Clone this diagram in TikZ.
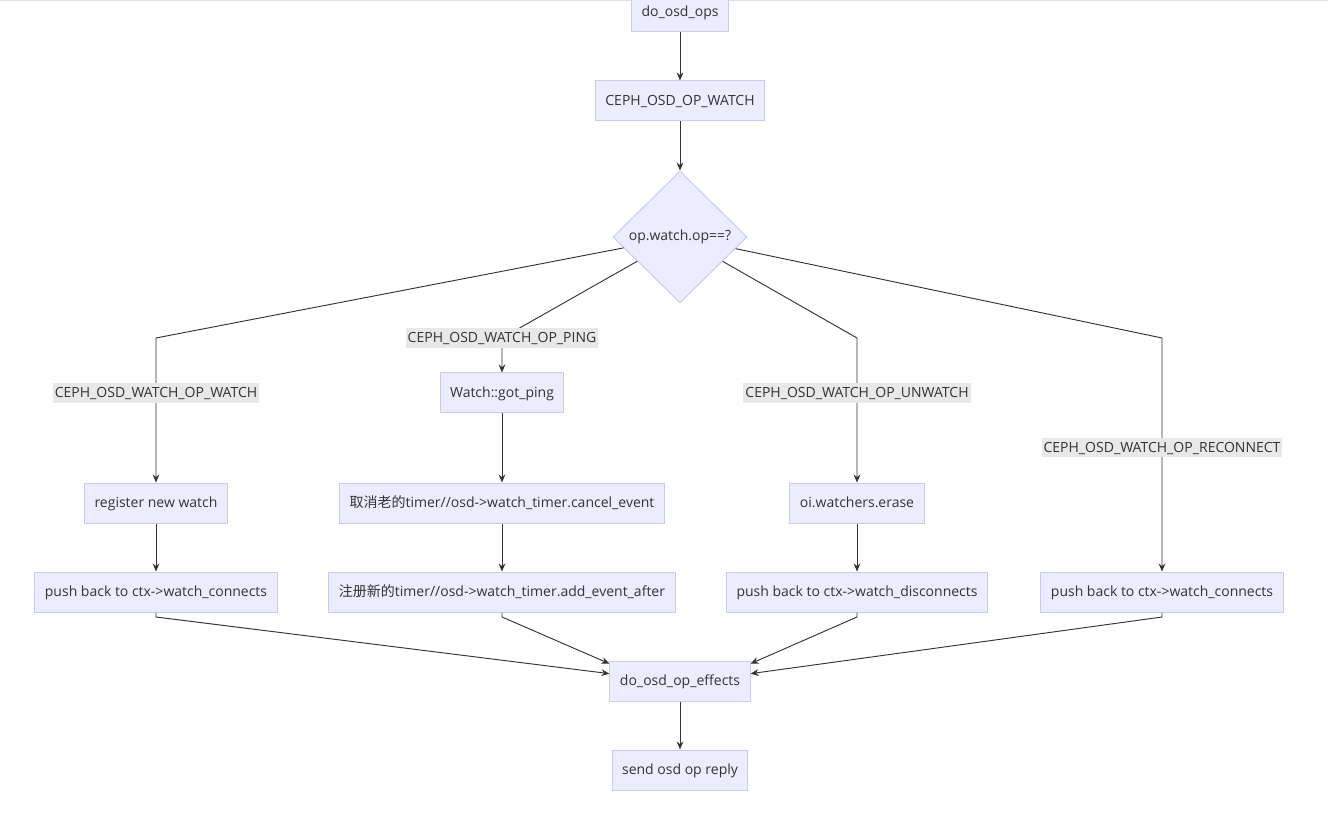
\documentclass[tikz,border=0pt]{standalone}
\usepackage{fontspec}
\setmainfont{Open Sans}
\newfontfamily\cjk{Noto Sans CJK SC}
\usetikzlibrary{shapes.geometric,arrows.meta}
\definecolor{boxfill}{HTML}{ECECFF}
\definecolor{boxline}{HTML}{CACAF2}
\definecolor{lblfill}{HTML}{E8E8E8}
\definecolor{ink}{HTML}{333333}
\begin{document}
\begin{tikzpicture}[x=0.75pt, y=-0.75pt, >={Stealth[length=6pt,width=5pt]},
  box/.style={draw=boxline, fill=boxfill, text=ink, line width=0.75pt, minimum height=30pt, inner xsep=7.5pt, text height=9pt, text depth=2.5pt, font=\fontsize{10.5}{12}\selectfont},
  cond/.style={diamond, draw=boxline, fill=boxfill, text=ink, line width=0.75pt, minimum width=100.5pt, minimum height=99pt, inner sep=0pt, font=\fontsize{10.5}{12}\selectfont},
  lbl/.style={fill=lblfill, text=ink, inner xsep=1.5pt, inner ysep=1.5pt, text height=9pt, text depth=2.5pt, font=\fontsize{10.5}{12}\selectfont},
  flow/.style={draw=ink, line width=0.7pt}]
\useasboundingbox (0,0) rectangle (1328,823);
\draw[gray!25, line width=1pt] (0,0.5) -- (1328,0.5);
\node[box] (ops) at (680,12) {do\_osd\_ops};
\node[box] (watch) at (680,101) {CEPH\_OSD\_OP\_WATCH};
\node[cond] (dec) at (680,237) {op.watch.op==?};
\node[box] (ping) at (502,393) {Watch::got\_ping};
\node[box] (reg) at (156,503) {register new watch};
\node[box] (cancel) at (502,503) {{\cjk 取消老的}timer//osd->watch\_timer.cancel\_event};
\node[box] (erase) at (857,503) {oi.watchers.erase};
\node[box] (pushl) at (156,592) {push back to ctx->watch\_connects};
\node[box] (add) at (502,592) {{\cjk 注册新的}timer//osd->watch\_timer.add\_event\_after};
\node[box] (pushd) at (857,592) {push back to ctx->watch\_disconnects};
\node[box] (pushr) at (1162,592) {push back to ctx->watch\_connects};
\node[box] (eff) at (680,681) {do\_osd\_op\_effects};
\node[box] (reply) at (680,770) {send osd op reply};
\coordinate (bw) at (156,338);
\coordinate (bp) at (502,338);
\coordinate (bu) at (857,338);
\coordinate (br) at (1162,338);
\draw[flow,->] (ops) -- (watch);
\draw[flow,->] (watch) -- (dec);
\draw[flow,->] (dec) -- (bw) -- node[lbl,pos=0.38]{CEPH\_OSD\_WATCH\_OP\_WATCH} (reg);
\draw[flow,->] (dec) -- (bp) -- node[lbl,pos=0]{CEPH\_OSD\_WATCH\_OP\_PING} (ping);
\draw[flow,->] (dec) -- (bu) -- node[lbl,pos=0.38]{CEPH\_OSD\_WATCH\_OP\_UNWATCH} (erase);
\draw[flow,->] (dec) -- (br) -- node[lbl,pos=0.47]{CEPH\_OSD\_WATCH\_OP\_RECONNECT} (pushr);
\draw[flow,->] (reg) -- (pushl);
\draw[flow,->] (ping) -- (cancel);
\draw[flow,->] (cancel) -- (add);
\draw[flow,->] (erase) -- (pushd);
\draw[flow,->] (pushl) -- ++(0,25) -- ([yshift=5.5pt]eff.west);
\draw[flow,->] (add) -- ++(0,25) -- ([yshift=13pt]eff.west);
\draw[flow,->] (pushd) -- ++(0,25) -- ([yshift=13pt]eff.east);
\draw[flow,->] (pushr) -- ++(0,25) -- ([yshift=5.5pt]eff.east);
\draw[flow,->] (eff) -- (reply);
\end{tikzpicture}
\end{document}
